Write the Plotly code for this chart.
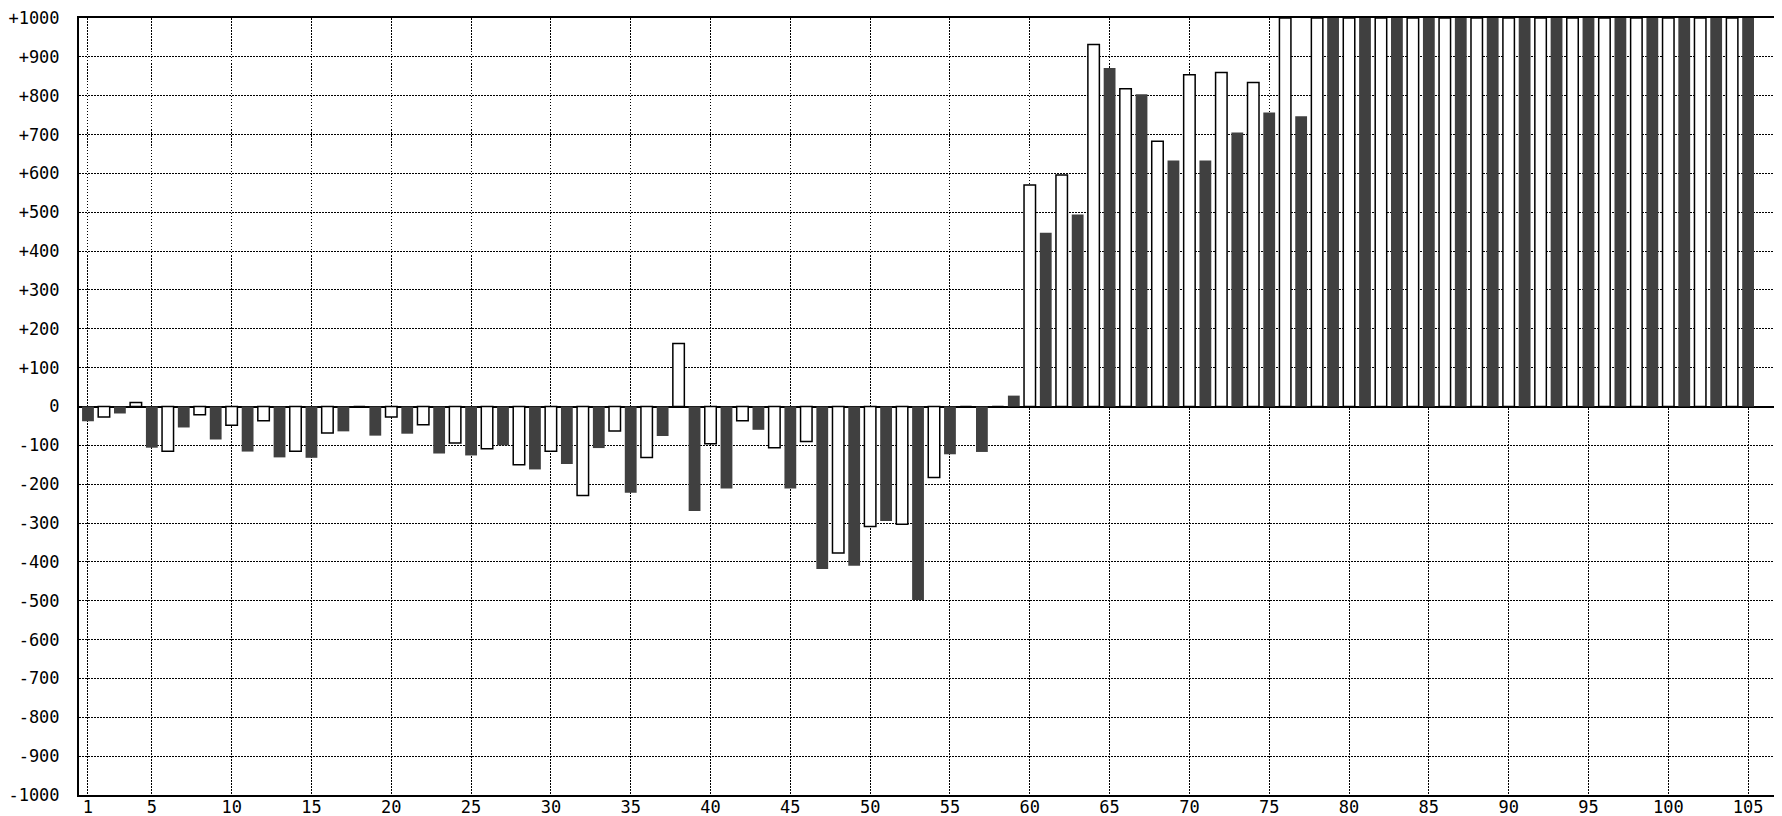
import plotly.graph_objects as go

# Category positions 1..105 ; odd categories are dark bars, even are white (outlined)
categories = list(range(1, 106))

# Values (bars reaching the top are clipped at the +1000 limit)
values = [
    -38, -27, -18, 10, -106, -115, -54, -21, -85, -48,        # 1-10
    -116, -37, -131, -115, -132, -68, -64, 0, -75, -27,       # 11-20
    -70, -47, -121, -94, -126, -109, -100, -150, -162, -115,  # 21-30
    -148, -229, -107, -63, -222, -131, -76, 162, -269, -96,   # 31-40
    -211, -37, -60, -106, -211, -90, -418, -377, -410, -309,  # 41-50
    -295, -303, -498, -183, -123, 0, -117, 0, 28, 570,        # 51-60
    447, 596, 494, 932, 871, 818, 804, 683, 633, 854,         # 61-70
    633, 860, 705, 834, 757, 1000, 747, 1000, 1000, 1000,     # 71-80
    1000, 1000, 1000, 1000, 1000, 1000, 1000, 1000, 1000, 1000,  # 81-90
    1000, 1000, 1000, 1000, 1000, 1000, 1000, 1000, 1000, 1000,  # 91-100
    1000, 1000, 1000, 1000, 1000,                             # 101-105
]

x_tickvals = [1] + list(range(5, 106, 5))
x_ticktext = [str(v) for v in x_tickvals]
y_tickvals = list(range(-1000, 1001, 100))
y_ticktext = [("+" + str(v)) if v > 0 else str(v) for v in y_tickvals]

dark_x = [c for c in categories if c % 2 == 1]
dark_y = [v for c, v in zip(categories, values) if c % 2 == 1]
light_x = [c for c in categories if c % 2 == 0]
light_y = [v for c, v in zip(categories, values) if c % 2 == 0]

fig = go.Figure()
fig.add_trace(go.Bar(
    x=dark_x, y=dark_y, width=0.74,
    marker=dict(color="#404040", line=dict(width=0)),
    showlegend=False,
))
fig.add_trace(go.Bar(
    x=light_x, y=light_y, width=0.72,
    marker=dict(color="white", line=dict(color="black", width=1.5)),
    showlegend=False,
))

font = dict(family="DejaVu Sans Mono", size=17, color="black")
grid_dash = "1.5px,1.5px"

fig.update_layout(
    width=1782, height=816,
    margin=dict(l=67, r=0, t=8, b=29, pad=0),
    paper_bgcolor="white", plot_bgcolor="white",
    barmode="overlay",
    font=font,
    xaxis=dict(
        range=[0.4375, 107.625],
        tickmode="array", tickvals=x_tickvals, ticktext=x_ticktext,
        showgrid=True, gridcolor="black", gridwidth=1.3, griddash=grid_dash,
        showline=True, linecolor="black", linewidth=2, mirror=True,
        ticks="", zeroline=False, tickfont=font, tickangle=0,
        ticklabelstandoff=-4, ticklabeloverflow="allow",
    ),
    yaxis=dict(
        range=[-1000, 1000],
        tickmode="array", tickvals=y_tickvals, ticktext=y_ticktext,
        showgrid=True, gridcolor="black", gridwidth=1.3, griddash=grid_dash,
        showline=True, linecolor="black", linewidth=2, mirror=False,
        zeroline=True, zerolinecolor="black", zerolinewidth=2,
        ticks="", tickfont=font, ticklabelstandoff=14,
        ticklabeloverflow="allow",
    ),
)

fig.write_html("out.html")
